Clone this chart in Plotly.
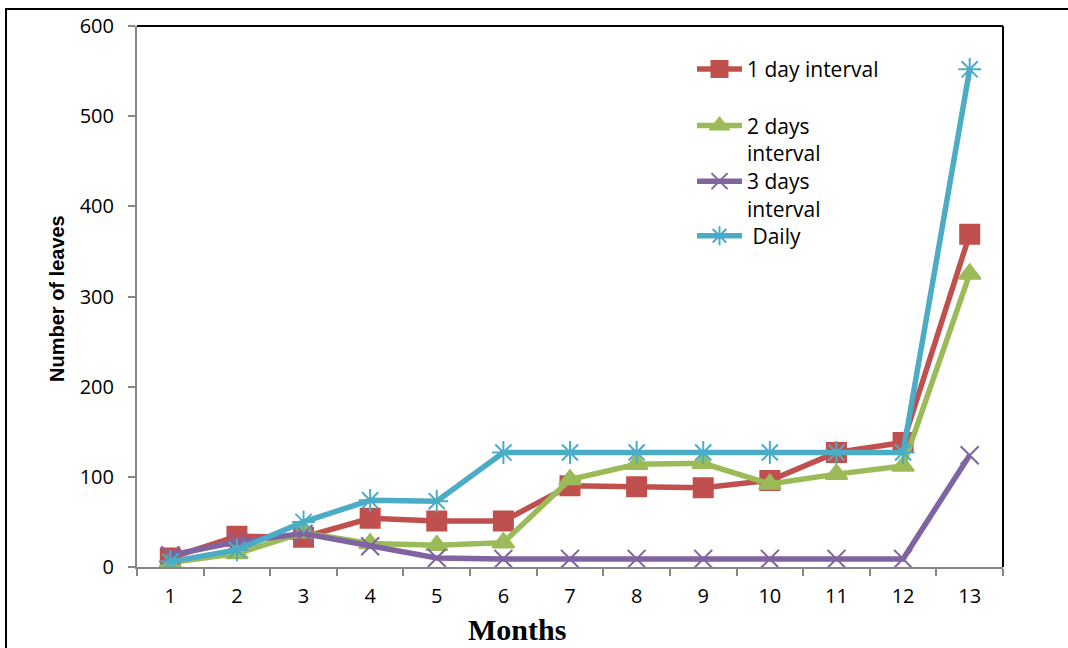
import plotly.graph_objects as go

months = [str(i) for i in range(1, 14)]
one_day = [10, 34, 33, 54, 51, 51, 90, 89, 88, 96, 127, 138, 369]
two_days = [5, 15, 38, 26, 24, 27, 97, 114, 115, 92, 103, 112, 325]
three_days = [13, 28, 37, 23, 10, 9, 9, 9, 9, 9, 9, 9, 124]
daily = [6, 19, 50, 74, 73, 127, 127, 127, 127, 127, 127, 127, 552]

names = ["1 day interval", "2 days<br>interval", "3 days<br>interval", " Daily"]
series = [one_day, two_days, three_days, daily]
colors = ["#C0504D", "#9BBB59", "#8064A2", "#4BACC6"]
symbols = ["square", "triangle-up", "x-thin-open", "asterisk-open"]
sizes = [19, 19, 18, 19]
legends = ["legend", "legend2", "legend3", "legend4"]

fig = go.Figure()
for nm, ys, c, s, sz, lg in zip(names, series, colors, symbols, sizes, legends):
    fig.add_trace(go.Scatter(
        x=months, y=ys, name=nm, mode="lines+markers",
        line=dict(color=c, width=5.5),
        marker=dict(symbol=s, size=sz, color=c, line=dict(color=c, width=2)),
        legend=lg,
    ))

L, R, T, B = 137, 65, 22, 81
W, H = 1068, 648
pw, ph = W - L - R, H - T - B

def px(xp):
    return (xp - L) / pw

def py(yp):
    return (H - B - yp) / ph

legfont = dict(family="Open Sans, Liberation Sans, sans-serif", size=21, color="black")
leg_common = dict(x=px(692), xanchor="left", yanchor="top", font=legfont,
                  bgcolor="rgba(0,0,0,0)", valign="top", itemwidth=45)
legend_rows = [45, 102, 158, 213]

layout_legends = {}
for lg, row in zip(legends, legend_rows):
    layout_legends[lg] = dict(leg_common, y=py(row))

fig.update_layout(
    width=W, height=H,
    margin=dict(l=L, r=R, t=T, b=B),
    paper_bgcolor="white", plot_bgcolor="white",
    showlegend=True,
    font=dict(family="Open Sans, Liberation Sans, sans-serif", size=20, color="black"),
    xaxis=dict(
        type="category", range=[-0.5, 12.5], tickson="boundaries", ticks="outside", ticklen=7,
        tickcolor="#868686", tickwidth=2, showline=True, linecolor="#868686", linewidth=2,
        showgrid=False, zeroline=False, tickfont=dict(size=20), ticklabelstandoff=10,
    ),
    yaxis=dict(
        range=[0, 600], dtick=100, ticks="outside", ticklen=7, tickcolor="#868686", tickwidth=2,
        showline=True, linecolor="#868686", linewidth=2, showgrid=False, zeroline=False,
        tickfont=dict(size=20), ticklabelstandoff=10,
    ),
    shapes=[
        dict(type="line", xref="paper", yref="paper", x0=0, x1=1, y0=1, y1=1,
             line=dict(color="black", width=2)),
        dict(type="line", xref="paper", yref="paper", x0=1, x1=1, y0=0, y1=1,
             line=dict(color="black", width=2)),
        dict(type="rect", xref="paper", yref="paper", x0=px(6), x1=1.3, y0=-0.4, y1=py(5),
             line=dict(color="black", width=2), fillcolor="rgba(0,0,0,0)"),
    ],
    annotations=[
        dict(text="<b>Months</b>", xref="paper", yref="paper", x=px(517), y=py(630),
             xanchor="center", yanchor="middle", showarrow=False,
             font=dict(family="Liberation Serif, Times New Roman, serif", size=30, color="black")),
        dict(text="<b>Number of leaves</b>", xref="paper", yref="paper", x=px(57), y=py(297),
             xanchor="center", yanchor="middle", showarrow=False, textangle=-90,
             font=dict(family="Liberation Sans, Arial, sans-serif", size=20, color="black")),
    ],
    **layout_legends,
)

fig.write_html(
    "out.html",
    config={"displayModeBar": False},
    post_script="document.body.style.margin='0px';document.body.style.overflow='hidden';",
)
